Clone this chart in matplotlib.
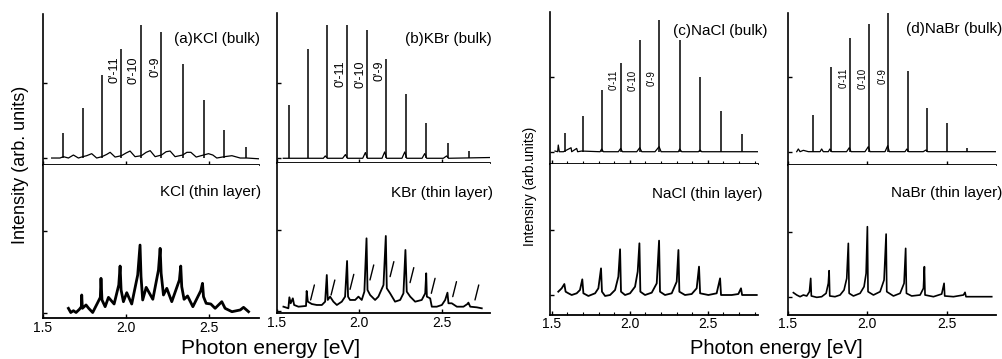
import matplotlib.pyplot as plt

plt.rcParams["font.family"] = ["Liberation Sans", "DejaVu Sans"]

W, H = 1003, 359

# ---------------- data (photon energy in eV, intensity in arb. units) -----------
# (a) KCl bulk
kcl_bulk_peak_e = [1.623, 1.739, 1.855, 1.972, 2.092, 2.213, 2.341, 2.466, 2.592, 2.723]
kcl_bulk_peak_i = [0.33, 0.67, 1.11, 1.46, 1.78, 1.68, 1.26, 0.78, 0.37, 0.15]
kcl_bulk_bg_e = [1.552, 1.602, 1.623, 1.653, 1.683, 1.713, 1.739, 1.763, 1.793, 1.823,
                 1.855, 1.884, 1.904, 1.934, 1.972, 2.000, 2.024, 2.054, 2.092, 2.121,
                 2.145, 2.175, 2.213, 2.241, 2.265, 2.295, 2.341, 2.366, 2.390, 2.422,
                 2.466, 2.496, 2.522, 2.546, 2.592, 2.637, 2.687, 2.727, 2.797]
kcl_bulk_bg_i = [0.0, 0.0, 0.018, 0.0, 0.04, 0.0, 0.018, 0.031, 0.058, 0.0,
                 0.018, 0.049, 0.076, 0.013, 0.031, 0.067, 0.093, 0.018, 0.031, 0.076,
                 0.098, 0.018, 0.04, 0.084, 0.093, 0.018, 0.04, 0.076, 0.076, 0.013,
                 0.04, 0.058, 0.04, 0.0, 0.018, 0.031, 0.0, 0.0, -0.01]
# KCl thin layer
kcl_thin_e = [1.653, 1.667, 1.683, 1.699, 1.719, 1.731, 1.733, 1.737, 1.759, 1.775,
              1.799, 1.827, 1.845, 1.849, 1.855, 1.874, 1.894, 1.928, 1.956, 1.964,
              1.970, 1.984, 2.004, 2.034, 2.070, 2.084, 2.090, 2.100, 2.121, 2.161,
              2.195, 2.205, 2.211, 2.225, 2.245, 2.275, 2.321, 2.329, 2.335, 2.349,
              2.370, 2.402, 2.450, 2.460, 2.466, 2.482, 2.510, 2.536, 2.576, 2.596,
              2.637, 2.687, 2.707, 2.737]
kcl_thin_i = [0.051, 0.0, 0.022, 0.0, 0.039, 0.071, 0.214, 0.051, 0.092, 0.051,
              0.0, 0.112, 0.185, 0.417, 0.153, 0.071, 0.185, 0.104, 0.336, 0.567,
              0.275, 0.132, 0.242, 0.104, 0.458, 0.823, 0.437, 0.153, 0.307, 0.161,
              0.519, 0.783, 0.478, 0.214, 0.295, 0.132, 0.397, 0.567, 0.315, 0.161,
              0.202, 0.071, 0.267, 0.356, 0.193, 0.112, 0.104, 0.051, 0.132, 0.051,
              0.010, 0.031, 0.063, 0.010]

# (b) KBr bulk
kbr_bulk_peak_e = [1.575, 1.688, 1.801, 1.923, 2.044, 2.161, 2.283, 2.404, 2.536, 2.665]
kbr_bulk_peak_i = [0.716, 1.462, 1.773, 1.782, 1.707, 1.329, 0.862, 0.476, 0.209, 0.093]
kbr_bulk_bg_e = [1.538, 1.781, 1.793, 1.805, 1.898, 1.915, 1.927, 2.020, 2.036, 2.048,
                 2.137, 2.153, 2.165, 2.258, 2.275, 2.287, 2.380, 2.396, 2.408, 2.509,
                 2.529, 2.540, 2.792]
kbr_bulk_bg_i = [0.0, 0.0, 0.031, 0.0, 0.0, 0.049, 0.0, 0.0, 0.076, 0.0,
                 0.0, 0.084, 0.0, 0.0, 0.084, 0.0, 0.0, 0.062, 0.0, 0.0,
                 0.031, 0.0, 0.01]
# KBr thin layer
kbr_thin_e = [1.539, 1.569, 1.575, 1.583, 1.596, 1.604, 1.630, 1.676, 1.680, 1.687,
              1.711, 1.741, 1.772, 1.792, 1.802, 1.808, 1.822, 1.842, 1.863, 1.893,
              1.913, 1.925, 1.931, 1.943, 1.974, 1.994, 2.014, 2.030, 2.043, 2.049,
              2.065, 2.095, 2.115, 2.146, 2.160, 2.166, 2.186, 2.216, 2.247, 2.267,
              2.279, 2.287, 2.308, 2.338, 2.378, 2.399, 2.405, 2.409, 2.429, 2.439,
              2.469, 2.500, 2.520, 2.534, 2.540, 2.560, 2.591, 2.631, 2.655, 2.661,
              2.672, 2.712, 2.742]
kbr_thin_i = [0.053, 0.033, 0.169, 0.095, 0.156, 0.074, 0.053, 0.062, 0.247, 0.115,
              0.086, 0.074, 0.074, 0.115, 0.444, 0.136, 0.177, 0.115, 0.074, 0.115,
              0.177, 0.617, 0.177, 0.136, 0.136, 0.177, 0.136, 0.239, 0.897, 0.259,
              0.197, 0.136, 0.177, 0.321, 0.926, 0.280, 0.218, 0.115, 0.136, 0.218,
              0.753, 0.239, 0.177, 0.115, 0.136, 0.218, 0.465, 0.177, 0.156, 0.053,
              0.053, 0.074, 0.136, 0.226, 0.095, 0.095, 0.053, 0.053, 0.086, 0.103,
              0.053, 0.045, 0.033]
# foot of the slanted marks in the KBr thin-layer panel
kbr_mark_e = [1.704, 1.828, 1.943, 2.064, 2.186, 2.307, 2.436, 2.566, 2.701]
kbr_mark_i = [0.136, 0.197, 0.267, 0.383, 0.424, 0.350, 0.218, 0.177, 0.136]

# (c) NaCl bulk
nacl_bulk_peak_e = [1.585, 1.703, 1.820, 1.944, 2.066, 2.190, 2.322, 2.453, 2.585, 2.718]
nacl_bulk_peak_i = [0.254, 0.476, 0.823, 1.178, 1.489, 1.756, 1.489, 1.000, 0.543, 0.232]
nacl_bulk_bg_e = [1.521, 1.538, 1.542, 1.549, 1.575, 1.624, 1.628, 1.660, 1.666, 1.692,
                  1.810, 1.820, 1.831, 1.927, 1.942, 1.953, 2.045, 2.064, 2.077, 2.162,
                  2.188, 2.201, 2.312, 2.320, 2.333, 2.440, 2.451, 2.461, 2.825]
nacl_bulk_bg_i = [0.009, 0.0, 0.089, 0.0, 0.0, 0.053, 0.0, 0.044, 0.0, 0.009,
                  0.0, 0.036, 0.0, 0.0, 0.044, 0.0, 0.0, 0.053, 0.0, 0.0,
                  0.067, 0.0, 0.0, 0.036, 0.0, 0.0, 0.022, 0.0, 0.0]
# NaCl thin layer
nacl_thin_e = [1.542, 1.564, 1.581, 1.589, 1.607, 1.628, 1.660, 1.681, 1.696, 1.703,
               1.735, 1.778, 1.799, 1.816, 1.822, 1.842, 1.874, 1.906, 1.927, 1.938,
               1.944, 1.970, 2.002, 2.034, 2.051, 2.062, 2.068, 2.098, 2.141, 2.173,
               2.188, 2.194, 2.226, 2.269, 2.301, 2.312, 2.318, 2.354, 2.397, 2.429,
               2.444, 2.451, 2.504, 2.557, 2.579, 2.585, 2.654, 2.696, 2.713, 2.720,
               2.814]
nacl_thin_i = [0.051, 0.103, 0.169, 0.051, 0.026, 0.0, 0.026, 0.077, 0.241, 0.026,
               -0.015, 0.026, 0.103, 0.410, 0.051, -0.015, 0.0, 0.077, 0.282, 0.703,
               0.051, 0.0, 0.026, 0.128, 0.359, 0.795, 0.051, 0.0, 0.036, 0.179,
               0.836, 0.051, 0.0, 0.026, 0.205, 0.692, 0.051, 0.0, 0.015, 0.103,
               0.436, 0.026, 0.0, 0.026, 0.256, 0.0, 0.0, 0.015, 0.103, 0.0,
               0.0]

# (d) NaBr bulk
nabr_bulk_peak_e = [1.655, 1.771, 1.890, 2.010, 2.132, 2.254, 2.373, 2.499, 2.625]
nabr_bulk_peak_i = [0.489, 1.133, 1.511, 1.698, 1.867, 1.076, 0.587, 0.378, 0.044]
nabr_bulk_bg_e = [1.555, 1.565, 1.576, 1.597, 1.628, 1.702, 1.712, 1.722, 1.754, 1.764,
                  1.775, 1.869, 1.886, 1.897, 1.985, 2.006, 2.016, 2.111, 2.128, 2.138,
                  2.237, 2.249, 2.260, 2.352, 2.369, 2.380, 2.814]
nabr_bulk_bg_i = [0.0, 0.036, 0.0, 0.018, 0.0, 0.0, 0.036, 0.0, 0.0, 0.036,
                  0.0, 0.0, 0.053, 0.0, 0.0, 0.067, 0.0, 0.0, 0.080, 0.0,
                  0.0, 0.036, 0.0, 0.0, 0.022, 0.0, 0.0]
# NaBr thin layer
nabr_thin_e = [1.534, 1.555, 1.576, 1.597, 1.618, 1.635, 1.643, 1.647, 1.681, 1.712,
               1.740, 1.754, 1.759, 1.763, 1.796, 1.828, 1.853, 1.870, 1.880, 1.885,
               1.912, 1.954, 1.979, 1.992, 2.000, 2.004, 2.038, 2.080, 2.105, 2.118,
               2.122, 2.164, 2.206, 2.231, 2.241, 2.246, 2.279, 2.332, 2.353, 2.359,
               2.363, 2.416, 2.468, 2.483, 2.487, 2.542, 2.605, 2.615, 2.621, 2.709,
               2.783]
nabr_thin_i = [0.062, 0.026, 0.0, 0.026, 0.011, 0.077, 0.282, 0.011, -0.010, 0.0,
               0.052, 0.206, 0.400, 0.011, 0.0, 0.026, 0.103, 0.282, 0.821, 0.052,
               0.011, 0.052, 0.154, 0.359, 1.077, 0.077, 0.026, 0.077, 0.257, 0.964,
               0.077, 0.011, 0.052, 0.206, 0.744, 0.052, 0.011, 0.026, 0.129, 0.462,
               0.026, 0.0, 0.041, 0.206, 0.011, 0.0, 0.026, 0.067, 0.0, 0.0,
               0.0]

# vibronic labels (0'-v'') and where they sit
peak_labels = ["0'-11", "0'-10", "0'-9"]
kcl_label_e = [1.931, 2.046, 2.175]
kbr_label_e = [1.884, 2.005, 2.123]
nacl_label_e = [1.894, 2.018, 2.141]
nabr_label_e = [1.851, 1.971, 2.093]

x_ticks = [1.5, 2.0, 2.5]
x_tick_labels = ["1.5", "2.0", "2.5"]


fig = plt.figure(figsize=(W / 100, H / 100), dpi=100)


def make_axes(x0, x1, y0, y1):
    # pixel box -> figure fraction
    return fig.add_axes([x0 / W, 1 - y1 / H, (x1 - x0) / W, (y1 - y0) / H])


def style(ax, xlim, ylim, lower, minor=False):
    ax.set_xlim(xlim)
    ax.set_ylim(ylim)
    ax.spines["top"].set_visible(False)
    ax.spines["right"].set_visible(False)
    ax.spines["left"].set_linewidth(1.2)
    ax.spines["bottom"].set_linewidth(1.3)
    ax.set_xticks(x_ticks)
    ax.set_yticks([0, 1])
    if minor:
        ax.set_xticks([1.6, 1.7, 1.8, 1.9, 2.1, 2.2, 2.3, 2.4, 2.6, 2.7, 2.8], minor=True)
        ax.tick_params(axis="x", which="minor", direction="in", length=2, width=0.8)
    ax.tick_params(direction="in", length=3, width=1, labelleft=False)
    if lower:
        ax.set_xticklabels(x_tick_labels, fontsize=10)
        ax.tick_params(axis="x", pad=2)
    else:
        ax.tick_params(labelbottom=False)


def bulk(ax, bg_e, bg_i, pk_e, pk_i):
    ax.plot(bg_e, bg_i, color="k", lw=0.9)
    ax.vlines(pk_e, 0, pk_i, color="k", lw=1.1)


def labels(ax, xs, top, size):
    for s, x in zip(peak_labels, xs):
        ax.text(x, top, s, rotation=90, ha="center", va="top", fontsize=size)


# ---- (a) KCl ----
ax = make_axes(43, 259, 14, 165)
bulk(ax, kcl_bulk_bg_e, kcl_bulk_bg_i, kcl_bulk_peak_e, kcl_bulk_peak_i)
labels(ax, kcl_label_e, 1.36, 9)
ax.text(1.005, 0.834, "(a)KCl (bulk)", transform=ax.transAxes, ha="right", va="center", fontsize=11)
style(ax, (1.5, 2.8), (-0.093, 1.92), False)

ax = make_axes(43, 259, 165, 318)
ax.plot(kcl_thin_e, kcl_thin_i, color="k", lw=2.0)
ax.text(1.009, 0.824, "KCl (thin layer)", transform=ax.transAxes, ha="right", va="center", fontsize=11)
style(ax, (1.5, 2.8), (-0.067, 1.80), True)

# ---- (b) KBr ----
ax = make_axes(277, 490, 13, 163)
bulk(ax, kbr_bulk_bg_e, kbr_bulk_bg_i, kbr_bulk_peak_e, kbr_bulk_peak_i)
labels(ax, kbr_label_e, 1.30, 9)
ax.text(1.008, 0.827, "(b)KBr (bulk)", transform=ax.transAxes, ha="right", va="center", fontsize=11)
style(ax, (1.5, 2.792), (-0.063, 1.937), False)

ax = make_axes(277, 490, 163, 313)
ax.plot(kbr_thin_e, kbr_thin_i, color="k", lw=1.3)
for e, i in zip(kbr_mark_e, kbr_mark_i):
    ax.annotate("", xy=(e, i), xytext=(2.7, 10.8), textcoords="offset points",
                arrowprops=dict(arrowstyle="-", lw=1.0, color="k", shrinkA=0, shrinkB=0))
ax.text(1.014, 0.80, "KBr (thin layer)", transform=ax.transAxes, ha="right", va="center", fontsize=11)
style(ax, (1.5, 2.792), (-0.025, 1.827), True)

# ---- (c) NaCl ----
ax = make_axes(550, 758, 12.5, 163.5)
bulk(ax, nacl_bulk_bg_e, nacl_bulk_bg_i, nacl_bulk_peak_e, nacl_bulk_peak_i)
labels(ax, nacl_label_e, 1.09, 7)
ax.text(1.048, 0.877, "(c)NaCl (bulk)", transform=ax.transAxes, ha="right", va="center", fontsize=11)
style(ax, (1.489, 2.822), (-0.157, 1.856), False, minor=True)

ax = make_axes(550, 758, 163.5, 314.5)
ax.plot(nacl_thin_e, nacl_thin_i, color="k", lw=1.3)
ax.text(1.024, 0.795, "NaCl (thin layer)", transform=ax.transAxes, ha="right", va="center", fontsize=11)
style(ax, (1.489, 2.822), (-0.30, 2.023), True, minor=True)

# ---- (d) NaBr ----
ax = make_axes(788, 996, 13, 164.5)
bulk(ax, nabr_bulk_bg_e, nabr_bulk_bg_i, nabr_bulk_peak_e, nabr_bulk_peak_i)
labels(ax, nabr_label_e, 1.12, 7)
ax.text(1.029, 0.894, "(d)NaBr (bulk)", transform=ax.transAxes, ha="right", va="center", fontsize=11)
style(ax, (1.5, 2.81), (-0.171, 1.849), False)

ax = make_axes(788, 996, 164.5, 314.5)
ax.plot(nabr_thin_e, nabr_thin_i, color="k", lw=1.2)
ax.text(1.029, 0.813, "NaBr (thin layer)", transform=ax.transAxes, ha="right", va="center", fontsize=11)
style(ax, (1.5, 2.81), (-0.274, 2.034), True)

# axis titles
fig.text(21 / W, 1 - 165 / H, "Intensity (arb. units)", rotation=90, ha="center", va="center", fontsize=13)
fig.text(530 / W, 1 - 186 / H, "Intensiry (arb.units)", rotation=90, ha="center", va="center", fontsize=10)
fig.text(271 / W, 1 - 349 / H, "Photon energy [eV]", ha="center", va="center", fontsize=15)
fig.text(776 / W, 1 - 348 / H, "Photon energy [eV]", ha="center", va="center", fontsize=14.5)

fig.savefig("out.png", dpi=100)
